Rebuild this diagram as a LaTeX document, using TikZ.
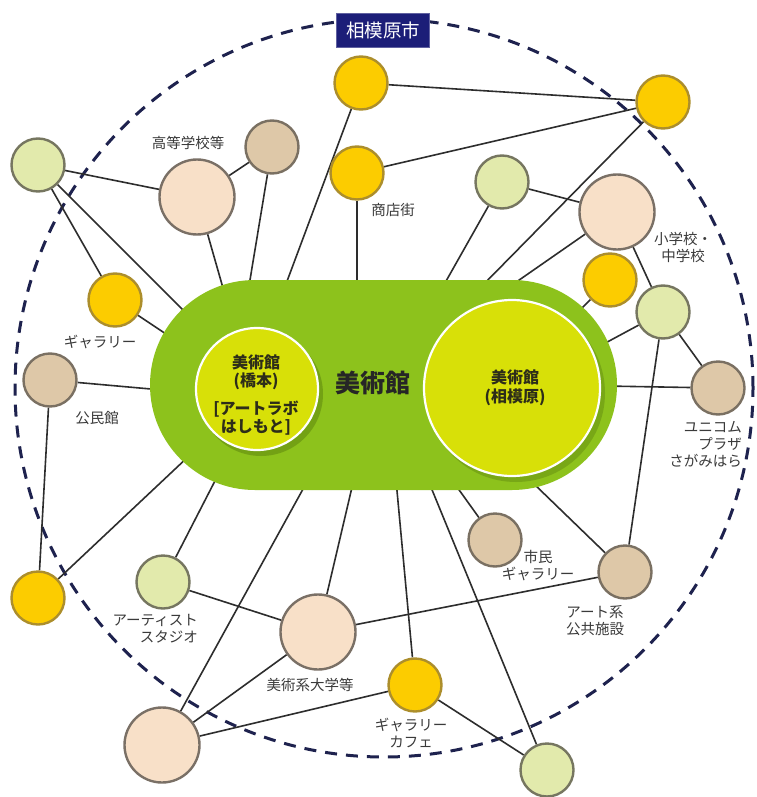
\documentclass[tikz,border=0pt]{standalone}
\usepackage{fontspec}
\newfontfamily\cjk{Noto Sans CJK JP}
\definecolor{capgreen}{RGB}{141,194,28}
\definecolor{limefill}{RGB}{216,224,8}
\definecolor{shadowcol}{RGB}{95,135,15}
\definecolor{yelfill}{RGB}{252,204,0}
\definecolor{yeldraw}{RGB}{172,142,44}
\definecolor{grnfill}{RGB}{226,234,172}
\definecolor{grndraw}{RGB}{118,118,96}
\definecolor{tanfill}{RGB}{222,200,168}
\definecolor{tandraw}{RGB}{122,112,98}
\definecolor{pchfill}{RGB}{248,224,200}
\definecolor{pchdraw}{RGB}{122,112,102}
\definecolor{connc}{RGB}{45,45,45}
\definecolor{lblcol}{RGB}{58,58,58}
\definecolor{navy}{RGB}{28,30,120}
\definecolor{dashc}{RGB}{30,34,78}
\definecolor{inktext}{RGB}{45,45,25}
\pgfdeclarelayer{edges}
\pgfdeclarelayer{capsule}
\pgfsetlayers{edges,capsule,main}
\tikzset{
  conn/.style={draw=connc, line width=1.6pt},
  ball/.style={circle, line width=2.4pt, inner sep=0pt},
  ynode/.style={ball, fill=yelfill, draw=yeldraw, minimum size=53pt},
  gnode/.style={ball, fill=grnfill, draw=grndraw, minimum size=53pt},
  tnode/.style={ball, fill=tanfill, draw=tandraw, minimum size=53pt},
  pnode/.style={ball, fill=pchfill, draw=pchdraw, minimum size=75pt},
  lbl/.style={text=lblcol, font=\cjk\fontsize{14.5}{17}\selectfont, inner sep=0pt, align=center},
  inner/.style={circle, fill=limefill, draw=white, line width=2.2pt, inner sep=0pt},
  innertxt/.style={text=inktext, font=\cjk\bfseries\fontsize{16}{18.5}\selectfont, inner sep=0pt, align=center},
}
\begin{document}
\begin{tikzpicture}[x=1pt,y=-1pt]
\useasboundingbox (0,0) rectangle (756,797);

% outer nodes
\node[ynode] (Y1) at (361,83) {};
\node[ynode] (Y2) at (357,173) {};
\node[ynode] (Y3) at (663,102) {};
\node[ynode] (Y4) at (610,280) {};
\node[ynode] (Y5) at (115,300) {};
\node[ynode] (Y6) at (38,598) {};
\node[ynode] (Y7) at (415,685) {};
\node[gnode] (G1) at (502,182) {};
\node[gnode] (G2) at (663,312) {};
\node[gnode] (G3) at (38,165) {};
\node[gnode] (G4) at (163,582) {};
\node[gnode] (G5) at (547,770) {};
\node[tnode] (T1) at (718,388) {};
\node[tnode] (T2) at (495,540) {};
\node[tnode] (T3) at (625,572) {};
\node[tnode] (T4) at (272,147) {};
\node[tnode] (T5) at (50,380) {};
\node[pnode] (P1) at (617,212) {};
\node[pnode] (P2) at (197,197) {};
\node[pnode] (P3) at (318,632) {};
\node[pnode] (P4) at (162,745) {};

% capsule attachment points
\coordinate (cG3) at (190,317);
\coordinate (cP2) at (225,295);
\coordinate (cT4) at (248,292);
\coordinate (cY1) at (283,292);
\coordinate (cY2) at (357,292);
\coordinate (cG1) at (441,290);
\coordinate (cY3) at (480,288);
\coordinate (cP1) at (512,285);
\coordinate (cY4) at (575,315);
\coordinate (cG2) at (598,347);
\coordinate (cT1) at (605,386);
\coordinate (cT3) at (533,483);
\coordinate (cT2) at (457,487);
\coordinate (cG5) at (428,480);
\coordinate (cY7) at (396,480);
\coordinate (cP3) at (353,483);
\coordinate (cP4) at (308,480);
\coordinate (cG4) at (218,475);
\coordinate (cY6) at (190,455);
\coordinate (cT5) at (162,390);
\coordinate (cY5) at (172,338);

\begin{pgfonlayer}{edges}
  \fill[white] (0,0) rectangle (756,797);
  \draw[dashc, line width=3pt, dash pattern=on 12pt off 9pt] (384,388) circle[radius=369pt];
  \foreach \n in {G3,P2,T4,Y1,Y2,G1,Y3,P1,Y4,G2,T1,T3,T2,G5,Y7,P3,P4,G4,Y6,T5,Y5}
    \draw[conn] (\n) -- (c\n);
  \draw[conn] (G3) -- (P2);
  \draw[conn] (G3) -- (Y5);
  \draw[conn] (P2) -- (T4);
  \draw[conn] (Y1) -- (Y3);
  \draw[conn] (Y2) -- (Y3);
  \draw[conn] (G1) -- (P1);
  \draw[conn] (P1) -- (G2);
  \draw[conn] (G2) -- (T1);
  \draw[conn] (G2) -- (T3);
  \draw[conn] (T5) -- (Y6);
  \draw[conn] (G4) -- (P3);
  \draw[conn] (P3) -- (P4);
  \draw[conn] (P4) -- (Y7);
  \draw[conn] (Y7) -- (G5);
  \draw[conn] (T3) -- (P3);
\end{pgfonlayer}

\begin{pgfonlayer}{capsule}
  \fill[capgreen, rounded corners=104.9pt] (150,280) rectangle (617,490);
  \fill[shadowcol, opacity=0.55] (261,394) circle[radius=62pt];
  \fill[shadowcol, opacity=0.45] (516,393) circle[radius=89pt];
\end{pgfonlayer}

\node[inner, minimum size=122pt] (hashi) at (257,389) {};
\node[inner, minimum size=176pt] (sagami) at (512,388) {};
\node[innertxt] (hashitxt) at (256,395) {美術館\\(橋本)\\[9pt]{[}アートラボ\\はしもと{]}};
\node[innertxt] (sagamitxt) at (515,388) {美術館\\(相模原)};
\node[text=black!85, font=\cjk\bfseries\fontsize{25}{28}\selectfont, inner sep=0pt] (bij) at (373,383) {美術館};

\node[fill=navy, draw=navy!70!white, line width=0.8pt, text=white, minimum width=93pt, minimum height=34pt, inner sep=0pt, font=\cjk\fontsize{18.5}{20}\selectfont] (title) at (383,30) {相模原市};

% labels
\node[lbl] (lP2) at (188,143) {高等学校等};
\node[lbl] (lY2) at (393,210) {商店街};
\node[lbl] (lP1) at (683,247) {小学校・\\中学校};
\node[lbl] (lY5) at (100,342) {ギャラリー};
\node[lbl] (lT5) at (97,418) {公民館};
\node[lbl, anchor=east, align=right] (lT1) at (742,444) {ユニコム\\プラザ\\さがみはら};
\node[lbl] (lT2) at (538,566) {市民\\ギャラリー};
\node[lbl] (lT3) at (595,621) {アート系\\公共施設};
\node[lbl, anchor=east, align=right] (lG4) at (198,629) {アーティスト\\スタジオ};
\node[lbl] (lP3) at (310,685) {美術系大学等};
\node[lbl] (lY7) at (411,733) {ギャラリー\\カフェ};
\end{tikzpicture}
\end{document}
